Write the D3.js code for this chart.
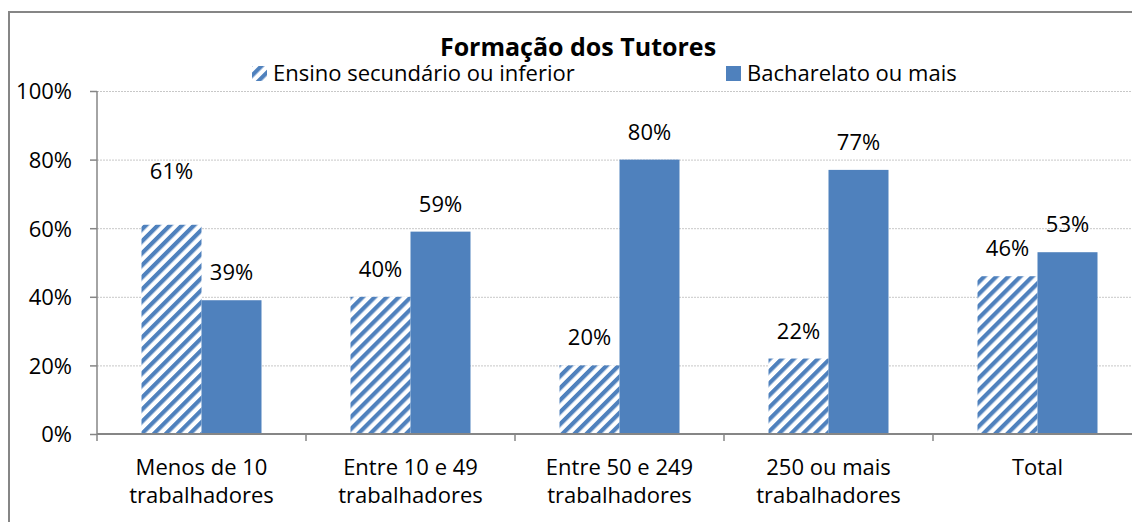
<!DOCTYPE html>
<html>
<head>
<meta charset="utf-8">
<script src="https://cdn.jsdelivr.net/npm/d3@7"></script>
<style>
  body { margin: 0; background: #fff; }
  svg { display: block; font-family: "Open Sans", Lato, sans-serif; }
</style>
</head>
<body>
<div id="wrapper"></div>
<script>
// data
const categories = ["Menos de 10 trabalhadores", "Entre 10 e 49 trabalhadores",
    "Entre 50 e 249 trabalhadores", "250 ou mais trabalhadores", "Total"]
const categoryLines = [["Menos de 10", "trabalhadores"], ["Entre 10 e 49", "trabalhadores"],
    ["Entre 50 e 249", "trabalhadores"], ["250 ou mais", "trabalhadores"], ["Total"]]
const seriesNames = ["Ensino secundário ou inferior", "Bacharelato ou mais"]
const secundario = [61, 40, 20, 22, 46]
const bacharelato = [39, 59, 80, 77, 53]
const yTicks = [0, 20, 40, 60, 80, 100]
const titleText = "Formação dos Tutores"

const blue = "#4f81bd"
const fontSize = "22px"

const dimensions = {
    width: 1132,
    height: 522,
    margin: { top: 91, right: -10, bottom: 88, left: 97 },
}
dimensions.boundedWidth = dimensions.width - dimensions.margin.left - dimensions.margin.right
dimensions.boundedHeight = dimensions.height - dimensions.margin.top - dimensions.margin.bottom

const wrapper = d3.select("#wrapper")
    .append("svg")
    .attr("width", dimensions.width)
    .attr("height", dimensions.height)

// hatch pattern
const defs = wrapper.append("defs")
defs.append("pattern")
    .attr("id", "hatch")
    .attr("patternUnits", "userSpaceOnUse")
    .attr("width", 8.5)
    .attr("height", 8.5)
    .attr("patternTransform", "rotate(45)")
  .call(p => p.append("rect").attr("width", 8.5).attr("height", 8.5).attr("fill", "#fff"))
  .call(p => p.append("rect").attr("x", 0).attr("width", 4.2).attr("height", 8.5).attr("fill", blue))

// outer chart frame
wrapper.append("rect")
    .attr("x", 9)
    .attr("y", 12)
    .attr("width", 1200)
    .attr("height", 600)
    .attr("fill", "none")
    .attr("stroke", "#868686")
    .attr("stroke-width", 2)

const bounds = wrapper.append("g")
    .attr("transform", `translate(${dimensions.margin.left},${dimensions.margin.top})`)

// scales
const yScale = d3.scaleLinear()
    .domain([0, 100])
    .range([dimensions.boundedHeight, 0])

const bandWidth = 209
const xScale = d3.scaleBand()
    .domain(categories)
    .range([0, bandWidth * categories.length])

const barWidth = 60
const xSub = d3.scaleBand()
    .domain(seriesNames)
    .range([bandWidth / 2 - barWidth, bandWidth / 2 + barWidth])

// gridlines
bounds.append("g")
    .selectAll("line")
    .data(yTicks.filter(t => t > 0))
    .join("line")
    .attr("x1", 0)
    .attr("x2", dimensions.boundedWidth)
    .attr("y1", d => yScale(d) + 0.5)
    .attr("y2", d => yScale(d) + 0.5)
    .attr("stroke", "#c8c8c8")
    .attr("stroke-width", 1)
    .attr("stroke-dasharray", "2,1")

// bars
const series = [
    { name: seriesNames[0], values: secundario, fill: "url(#hatch)" },
    { name: seriesNames[1], values: bacharelato, fill: blue },
]
const barData = series.flatMap(s => s.values.map((v, i) => ({
    series: s.name, category: categories[i], value: v, fill: s.fill, idx: i,
})))

bounds.append("g")
    .selectAll("rect")
    .data(barData)
    .join("rect")
    .attr("x", d => xScale(d.category) + xSub(d.series))
    .attr("y", d => yScale(d.value))
    .attr("width", xSub.bandwidth())
    .attr("height", d => yScale(0) - yScale(d.value))
    .attr("fill", d => d.fill)

// data labels (Excel lifts the first one a bit higher)
const extraLift = d => (d.series === seriesNames[0] && d.idx === 0) ? 26 : 0
bounds.append("g")
    .selectAll("text")
    .data(barData)
    .join("text")
    .attr("x", d => xScale(d.category) + xSub(d.series) + xSub.bandwidth() / 2)
    .attr("y", d => yScale(d.value) - 20 - extraLift(d))
    .attr("text-anchor", "middle")
    .style("font-size", fontSize)
    .attr("fill", "#000")
    .text(d => d.value + "%")

// y axis
const yAxisGenerator = d3.axisLeft(yScale)
    .tickValues(yTicks)
    .tickFormat(d => d + "%")
    .tickSize(7)
    .tickPadding(18)

const yAxis = bounds.append("g").call(yAxisGenerator)
yAxis.select(".domain").attr("stroke", "#868686").attr("stroke-width", 1.5)
    .attr("d", `M0,0V${dimensions.boundedHeight}`)
yAxis.selectAll(".tick line").attr("stroke", "#868686").attr("stroke-width", 1.5)
yAxis.selectAll(".tick text")
    .style("font-size", fontSize)
    .style("font-family", "'Open Sans', Lato, sans-serif")
    .attr("fill", "#000")
    .attr("dy", "0.36em")

// x axis
const xAxis = bounds.append("g")
    .attr("transform", `translate(0,${dimensions.boundedHeight})`)
xAxis.append("line")
    .attr("x1", 0)
    .attr("x2", dimensions.boundedWidth)
    .attr("stroke", "#868686")
    .attr("stroke-width", 2)
xAxis.selectAll(".xtick")
    .data(categories)
    .join("line")
    .attr("class", "xtick")
    .attr("x1", d => xScale(d))
    .attr("x2", d => xScale(d))
    .attr("y1", 0)
    .attr("y2", 7)
    .attr("stroke", "#868686")
    .attr("stroke-width", 1.5)

xAxis.selectAll(".xlabel")
    .data(categories)
    .join("text")
    .attr("class", "xlabel")
    .attr("text-anchor", "middle")
    .attr("x", d => xScale(d) + xScale.bandwidth() / 2)
    .attr("y", 41)
    .style("font-size", fontSize)
    .attr("fill", "#000")
    .each(function (d, i) {
        d3.select(this).selectAll("tspan")
            .data(categoryLines[i])
            .join("tspan")
            .attr("x", xScale(d) + xScale.bandwidth() / 2)
            .attr("dy", (t, j) => j === 0 ? 0 : 28)
            .text(t => t)
    })

// title
wrapper.append("text")
    .attr("x", 578)
    .attr("y", 56)
    .attr("text-anchor", "middle")
    .style("font-size", "25px")
    .style("font-weight", "bold")
    .attr("fill", "#000")
    .text(titleText)

// legend
const legendItems = [
    { name: seriesNames[0], fill: "url(#hatch)", x: 252 },
    { name: seriesNames[1], fill: blue, x: 726 },
]
const legend = wrapper.append("g")
legend.selectAll("rect")
    .data(legendItems)
    .join("rect")
    .attr("x", d => d.x)
    .attr("y", 66)
    .attr("width", 15)
    .attr("height", 15)
    .attr("fill", d => d.fill)
legend.selectAll("text")
    .data(legendItems)
    .join("text")
    .attr("x", d => d.x + 21)
    .attr("y", 81)
    .style("font-size", fontSize)
    .attr("fill", "#000")
    .text(d => d.name)
</script>
</body>
</html>
